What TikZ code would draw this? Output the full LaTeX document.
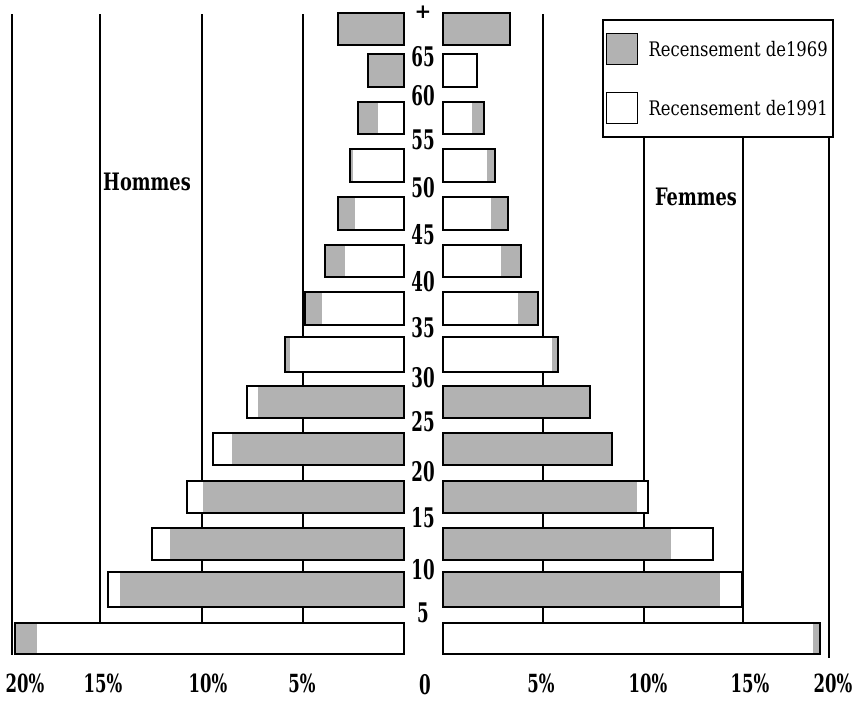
\documentclass[tikz,border=0pt]{standalone}
\usepackage{graphicx}
\usepackage{fontspec}
\setmainfont{DejaVu Serif}
\usetikzlibrary{positioning}

\tikzset{
  barbox/.style={draw=black, line width=2.6pt},
  stipple/.style={fill=black!30},
  gridline/.style={line width=1.6pt},
  agelbl/.style={font=\fontsize{27}{27}\selectfont\bfseries, inner sep=0pt},
  pctlbl/.style={font=\fontsize{25}{25}\selectfont\bfseries, inner sep=0pt},
  sexlbl/.style={font=\fontsize{24}{24}\selectfont\bfseries, inner sep=0pt},
  swatch/.style={draw=black, line width=1.8pt, minimum width=31pt, minimum height=31pt, inner sep=0pt},
  legtext/.style={font=\fontsize{20}{20}\selectfont, inner sep=0pt, anchor=west},
}
\newcommand{\narrow}[2][0.6]{\scalebox{#1}[1]{#2}}

\begin{document}
\begin{tikzpicture}[x=1pt,y=-1pt]
  \useasboundingbox (0,0) rectangle (857,704);
  % grid lines, left side
  \draw[gridline] (12,14)--(12,655);
  \draw[gridline] (100,14)--(100,622);
  \draw[gridline] (202,14)--(202,622);
  \draw[gridline] (303,14)--(303,622);
  % grid lines, right side
  \draw[gridline] (543,14)--(543,623);
  \draw[gridline] (644,137)--(644,623);
  \draw[gridline] (743,137)--(743,623);
  \draw[gridline] (829,137)--(829,658);
  % bars: top/bottom, left end/shade from/shade to, right end/shade from/shade to
  \foreach \t/\b/\xl/\al/\bl/\xr/\ar/\br in {
      13/45/338/338/404/510/443/510,
      54/87/368/368/404/477/477/477,
      102/134/358/358/378/484/472/484,
      149/182/350/350/353/495/487/495,
      197/230/338/338/355/508/491/508,
      245/277/325/325/345/521/501/521,
      292/325/305/305/322/538/518/538,
      337/372/285/285/290/558/552/558,
      386/418/247/258/404/590/443/590,
      433/465/213/232/404/612/443/612,
      481/513/187/203/404/648/443/637,
      528/560/152/170/404/713/443/671,
      572/607/108/120/404/742/443/720,
      623/654/15/15/37/820/813/820}{
    \fill[white] (\xl,\t) rectangle (404,\b);
    \fill[stipple] (\al,\t) rectangle (\bl,\b);
    \draw[barbox] (\xl,\t) rectangle (404,\b);
    \fill[white] (443,\t) rectangle (\xr,\b);
    \fill[stipple] (\ar,\t) rectangle (\br,\b);
    \draw[barbox] (443,\t) rectangle (\xr,\b);
  }
  % age groups
  \node[font=\fontsize{20}{20}\selectfont\bfseries, inner sep=0pt] (agetop) at (423,12) {+};
  \foreach \a/\y in {65/57, 60/96, 55/140, 50/188, 45/235, 40/282, 35/328,
      30/378, 25/422, 20/472, 15/518, 10/570, 5/613}
    \node[agelbl] (age\a) at (423,\y) {\narrow[0.62]{\a}};
  % percentages
  \node[agelbl] (pct0) at (425,685) {\narrow[0.62]{0}};
  \foreach \v/\x in {20/25, 15/103, 10/208, 5/302}
    \node[pctlbl] (pctl\v) at (\x,683) {\narrow[0.66]{\v\%}};
  \foreach \v/\x in {5/541, 10/648, 15/750, 20/833}
    \node[pctlbl] (pctr\v) at (\x,683) {\narrow[0.66]{\v\%}};
  \node[sexlbl] (hommes) at (147,182) {\narrow[0.74]{Hommes}};
  \node[sexlbl] (femmes) at (696,197) {\narrow[0.74]{Femmes}};
  % legend
  \draw[line width=1.4pt, fill=white] (603,20) rectangle (833,137);
  \node[swatch, stipple] (sw69) at (622,49) {};
  \node[swatch] (sw91) at (622,108) {};
  \node[legtext, right=10pt of sw69] (leg69) {\narrow[0.82]{Recensement de1969}};
  \node[legtext, right=10pt of sw91] (leg91) {\narrow[0.82]{Recensement de1991}};
\end{tikzpicture}
\end{document}
